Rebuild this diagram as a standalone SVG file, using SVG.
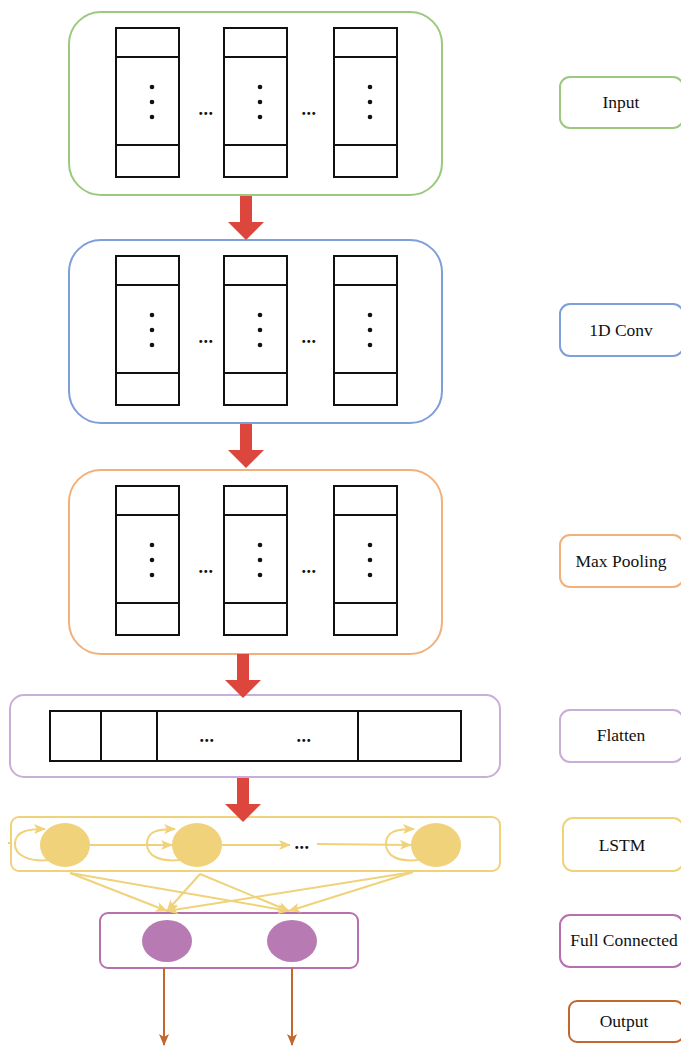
<svg xmlns="http://www.w3.org/2000/svg" xmlns:xlink="http://www.w3.org/1999/xlink" width="681" height="1046" viewBox="0 0 681 1046">
<style>
.lbl{font-family:"Liberation Serif","Times New Roman","DejaVu Serif",serif;font-size:17.5px;fill:#111;text-anchor:middle}
.col{fill:#fff;stroke:#111;stroke-width:2}
.dots{font-family:"Liberation Serif","Times New Roman","DejaVu Serif",serif;font-size:18px;font-weight:bold;letter-spacing:0.5px;fill:#111;text-anchor:middle}
.red{fill:#dd463c}
.yl{stroke:#f0d27a;stroke-width:2;fill:none}
.out{stroke:#c0692e;stroke-width:2;fill:none}
</style>
<defs>
<g id="column">
<rect class="col" x="0" y="0" width="63" height="149"/>
<line class="col" x1="0" y1="29" x2="63" y2="29"/>
<line class="col" x1="0" y1="117" x2="63" y2="117"/>
<circle cx="36" cy="59" r="2.3" fill="#111"/>
<circle cx="36" cy="74" r="2.3" fill="#111"/>
<circle cx="36" cy="89" r="2.3" fill="#111"/>
</g>
<g id="colset">
<use xlink:href="#column" x="116" y="0"/>
<use xlink:href="#column" x="224" y="0"/>
<use xlink:href="#column" x="334" y="0"/>
<text class="dots" x="206" y="87">...</text>
<text class="dots" x="309" y="87">...</text>
</g>
<polygon id="redarrow" class="red" points="-6,0 6,0 6,26 18,26 0,44 -18,26 -6,26"/>
<marker id="ya" viewBox="0 0 12 10" refX="11" refY="5" markerWidth="12" markerHeight="10" markerUnits="userSpaceOnUse" orient="auto">
<path d="M0,0 L12,5 L0,10 L3,5 Z" fill="#f0d27a"/>
</marker>
<marker id="oa" viewBox="0 0 12 10" refX="11" refY="5" markerWidth="12" markerHeight="10" markerUnits="userSpaceOnUse" orient="auto">
<path d="M0,0 L12,5 L0,10 L3,5 Z" fill="#c0692e"/>
</marker>
</defs>

<g id="input">
<rect x="69" y="12" width="373" height="183" rx="32" fill="#fff" stroke="#9bc97f" stroke-width="2"/>
<use xlink:href="#colset" x="0" y="28"/>
</g>
<g id="conv">
<rect x="69" y="240" width="373" height="183" rx="32" fill="#fff" stroke="#7f9fd8" stroke-width="2"/>
<use xlink:href="#colset" x="0" y="256"/>
</g>
<g id="pool">
<rect x="69" y="470" width="373" height="184" rx="32" fill="#fff" stroke="#f2b07a" stroke-width="2"/>
<use xlink:href="#colset" x="0" y="486"/>
</g>
<g id="flatten">
<rect x="10" y="695" width="490" height="82" rx="14" fill="#fff" stroke="#c8aed8" stroke-width="2"/>
<rect class="col" x="50" y="711" width="411" height="50"/>
<line class="col" x1="101" y1="711" x2="101" y2="761"/>
<line class="col" x1="157" y1="711" x2="157" y2="761"/>
<line class="col" x1="358" y1="711" x2="358" y2="761"/>
<text class="dots" x="207" y="742">...</text>
<text class="dots" x="304" y="742">...</text>
</g>
<g id="lstm">
<rect x="11" y="817" width="489" height="54" rx="8" fill="#fff" stroke="#f0d27a" stroke-width="2"/>
<ellipse cx="65" cy="845" rx="25" ry="22" fill="#f0d27a"/>
<ellipse cx="197" cy="845" rx="25" ry="22" fill="#f0d27a"/>
<ellipse cx="436" cy="845" rx="25" ry="22" fill="#f0d27a"/>
<text class="dots" x="302" y="849">...</text>
</g>
<g id="fc">
<rect x="100" y="913" width="258" height="55" rx="8" fill="#fff" stroke="#b86fb0" stroke-width="2"/>
<ellipse cx="167" cy="941" rx="25" ry="21" fill="#b87ab3"/>
<ellipse cx="292" cy="941" rx="25" ry="21" fill="#b87ab3"/>
</g>

<g id="labels">
<g id="lbl-input"><rect x="560" y="77" width="123" height="51" rx="10" fill="#fff" stroke="#9bc97f" stroke-width="2"/><text class="lbl" x="621" y="108">Input</text></g>
<g id="lbl-conv"><rect x="560" y="304" width="123" height="52" rx="10" fill="#fff" stroke="#7f9fd8" stroke-width="2"/><text class="lbl" x="621" y="336">1D Conv</text></g>
<g id="lbl-pool"><rect x="560" y="535" width="123" height="52" rx="10" fill="#fff" stroke="#f2b07a" stroke-width="2"/><text class="lbl" x="621" y="567">Max Pooling</text></g>
<g id="lbl-flatten"><rect x="560" y="710" width="123" height="52" rx="10" fill="#fff" stroke="#c8aed8" stroke-width="2"/><text class="lbl" x="621" y="741">Flatten</text></g>
<g id="lbl-lstm"><rect x="563" y="818" width="120" height="53" rx="10" fill="#fff" stroke="#f0d27a" stroke-width="2"/><text class="lbl" x="622" y="851">LSTM</text></g>
<g id="lbl-fc"><rect x="560" y="915" width="123" height="52" rx="10" fill="#fff" stroke="#b86fb0" stroke-width="2"/><text class="lbl" x="624" y="946">Full Connected</text></g>
<g id="lbl-output"><rect x="569" y="1001" width="114" height="41" rx="8" fill="#fff" stroke="#c0692e" stroke-width="2"/><text class="lbl" x="624" y="1027">Output</text></g>
</g>

<g id="connectors">
<use xlink:href="#redarrow" x="246" y="196"/>
<use xlink:href="#redarrow" x="246" y="424"/>
<use xlink:href="#redarrow" x="243" y="654"/>
<use xlink:href="#redarrow" x="243" y="778"/>
<path class="yl" d="M50,860 C30,862 14,856 15,843 C16,831 28,829 45,829" marker-end="url(#ya)"/>
<path class="yl" d="M180,860 C160,862 147,856 147,844 C147,831 158,829 175,829" marker-end="url(#ya)"/>
<path class="yl" d="M418,860 C398,862 386,856 386,844 C386,831 397,829 414,829" marker-end="url(#ya)"/>
<line class="yl" x1="90" y1="845" x2="172" y2="845" marker-end="url(#ya)"/>
<line class="yl" x1="222" y1="845" x2="290" y2="845" marker-end="url(#ya)"/>
<line class="yl" x1="317" y1="844" x2="411" y2="845" marker-end="url(#ya)"/>
<line class="yl" x1="8" y1="843" x2="12" y2="843"/>
<line class="yl" x1="70" y1="873" x2="167" y2="911" marker-end="url(#ya)"/>
<line class="yl" x1="70" y1="873" x2="289" y2="911" marker-end="url(#ya)"/>
<line class="yl" x1="200" y1="874" x2="167" y2="911" marker-end="url(#ya)"/>
<line class="yl" x1="200" y1="874" x2="289" y2="911" marker-end="url(#ya)"/>
<line class="yl" x1="413" y1="872" x2="167" y2="911" marker-end="url(#ya)"/>
<line class="yl" x1="413" y1="872" x2="289" y2="911" marker-end="url(#ya)"/>
<line class="out" x1="164" y1="968" x2="164" y2="1045" marker-end="url(#oa)"/>
<line class="out" x1="292" y1="968" x2="292" y2="1045" marker-end="url(#oa)"/>
</g>
</svg>
